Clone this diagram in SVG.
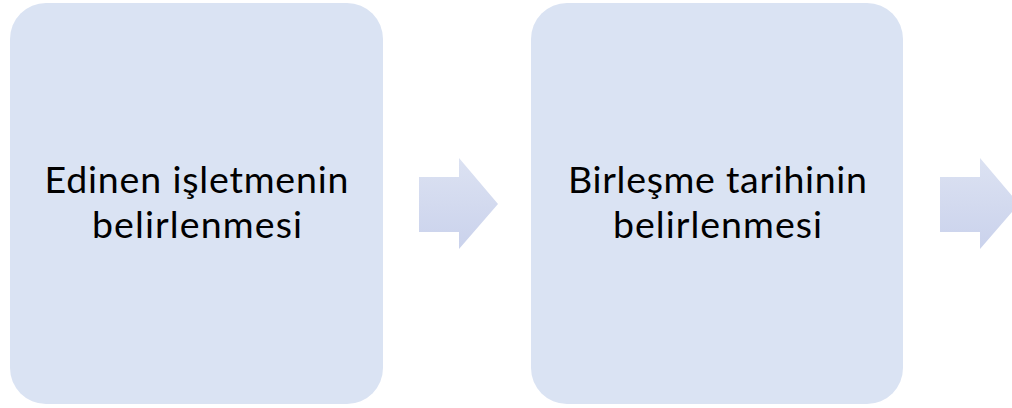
<svg xmlns="http://www.w3.org/2000/svg" width="1012" height="408" viewBox="0 0 1012 408">
<style>
.box{fill:#DAE3F3;}
.lbl{font-family:Lato,"Liberation Sans",sans-serif;font-size:37.5px;fill:#000;text-anchor:middle;}
.arr{fill:url(#ag);}
</style>
<defs>
<linearGradient id="ag" x1="0" y1="0" x2="0" y2="1">
<stop offset="0" stop-color="#DCE2F2"/>
<stop offset="1" stop-color="#CAD2EC"/>
</linearGradient>
</defs>
<rect width="1012" height="408" fill="#fff"/>
<g id="node1">
<rect class="box" x="10" y="3" width="373" height="401" rx="36" ry="36"/>
<text class="lbl" x="196.5" y="193" textLength="304" lengthAdjust="spacing">Edinen işletmenin</text>
<text class="lbl" x="197" y="238" textLength="210" lengthAdjust="spacing">belirlenmesi</text>
</g>
<g id="node2">
<rect class="box" x="531" y="3" width="372" height="401" rx="36" ry="36"/>
<text class="lbl" x="717.5" y="193" textLength="299" lengthAdjust="spacing">Birleşme tarihinin</text>
<text class="lbl" x="717.5" y="238" textLength="209" lengthAdjust="spacing">belirlenmesi</text>
</g>
<g id="connectors">
<polygon class="arr" points="419,177 459,177 459,158 498,204 459,249 459,232 419,232"/>
<polygon class="arr" points="940,177 980,177 980,158 1019,204 980,249 980,232 940,232"/>
</g>
</svg>
